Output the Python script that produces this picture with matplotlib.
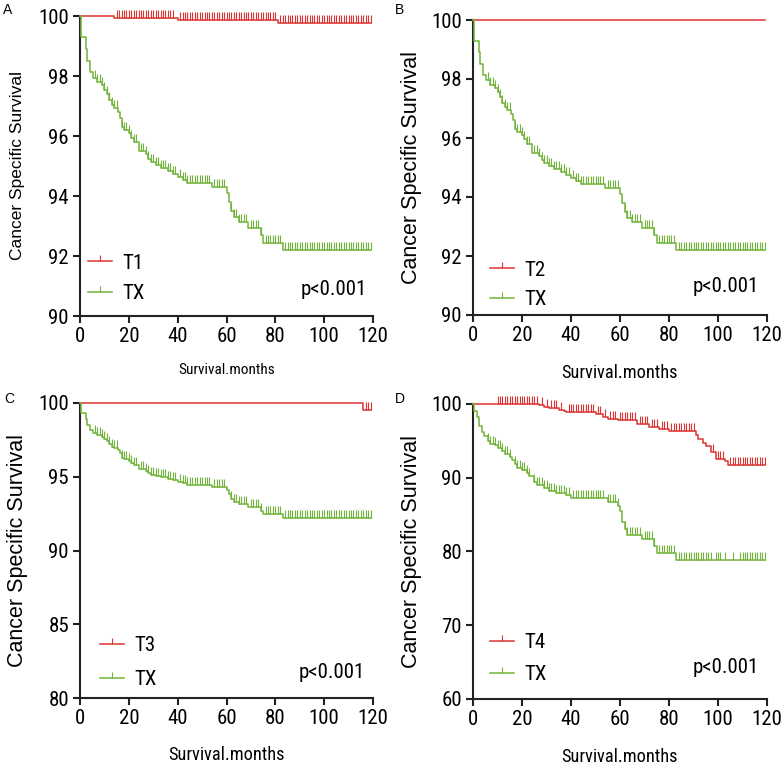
import numpy as np
import matplotlib
matplotlib.use('Agg')
import matplotlib.pyplot as plt
from matplotlib.lines import Line2D
from matplotlib import font_manager as fm

RED = '#DC3432'
GREEN = '#72B43A'

# look for a condensed face for the ticks / labels
narrow_file = None
cands = []
for f in fm.fontManager.ttflist:
    nm = f.name.lower()
    fn = f.fname.lower()
    if f.weight not in (400, 'normal', 'regular') or f.style != 'normal':
        continue
    if 'narrow' in nm or 'condensed' in nm or 'narrow' in fn or 'condensed' in fn \
            or str(f.stretch) in ('condensed', 'semi-condensed', 'extra-condensed'):
        if 'bold' in fn or 'italic' in fn or 'light' in fn or 'thin' in fn or 'medium' in fn:
            continue
        cands.append(f.fname)
cands.sort(key=lambda s: (0 if 'liberation' in s.lower() else 1 if 'roboto' in s.lower() else 2, s))
if cands:
    narrow_file = cands[0]


def nprop(size):
    if narrow_file:
        return fm.FontProperties(fname=narrow_file, size=size)
    return fm.FontProperties(family=['Liberation Sans', 'DejaVu Sans'], size=size * 0.85)


# TX group (panels A, B, C): step times / survival
tx_t = [0, 0.5, 2.3, 3.0, 4.0, 5.5, 7, 9, 10, 11, 12, 13, 14, 15.5, 16.5, 17, 18, 20, 21, 22,
        24, 27, 28, 29, 31, 33, 36, 38, 40, 42, 44, 54, 60, 61, 62, 63, 65, 69, 74, 75, 83]
tx_s = [100, 99.3, 98.9, 98.5, 98.15, 97.95, 97.8, 97.7, 97.55, 97.4, 97.2, 97.05, 96.95, 96.8,
        96.6, 96.3, 96.2, 96.1, 95.95, 95.8, 95.5, 95.4, 95.25, 95.15, 95.05, 94.95, 94.85, 94.75,
        94.65, 94.55, 94.45, 94.3, 94.1, 93.8, 93.5, 93.3, 93.15, 92.95, 92.7, 92.45, 92.2]
tx_c = [6, 7, 8, 9, 10, 11, 12, 13, 14, 15, 17, 18, 19, 20, 21, 22, 23, 25, 26, 27, 28, 29, 30,
        31, 32, 33, 34, 35, 36, 37, 38, 39, 41, 42, 43, 44, 45, 46, 47, 48, 49, 50, 51, 52, 53,
        55, 56, 57, 58, 59, 62, 63, 64, 65, 66, 67, 68, 70, 71, 72, 73, 74, 76, 77, 78, 79, 80,
        81, 82, 84, 85, 86, 87, 88, 89, 90, 91, 92, 93, 94, 95, 96, 97, 98, 99, 100, 101, 102,
        103, 104, 105, 106, 107, 108, 109, 110, 111, 112, 113, 114, 115, 116, 117, 118, 119]

# T1 (panel A)
t1_t = [0, 14, 40, 81]
t1_s = [100, 99.93, 99.86, 99.76]
t1_c = [15, 16, 17, 18, 19, 20, 21, 22, 23, 24, 25, 26, 27, 28, 29, 30, 31, 32, 33, 34, 35, 36,
        37, 38, 41, 42, 43, 44, 45, 46, 47, 48, 49, 50, 51, 52, 53, 54, 55, 56, 57, 58, 59, 60,
        61, 62, 63, 64, 65, 66, 67, 68, 69, 70, 71, 72, 73, 74, 75, 76, 77, 78, 79, 80, 82, 83,
        84, 85, 86, 87, 88, 89, 90, 91, 92, 93, 94, 95, 96, 97, 98, 99, 100, 101, 102, 103, 104,
        105, 106, 107, 108, 109, 110, 111, 112, 113, 114, 115, 116, 117, 118, 119]

# T2 (panel B)
t2_t = [0]
t2_s = [100]
t2_c = []

# T3 (panel C)
t3_t = [0, 116]
t3_s = [100, 99.55]
t3_c = [117, 118, 119]

# TX group (panel D)
txd_t = [0, 0.5, 1.5, 2.5, 3.5, 4.5, 6, 7, 9, 10, 12, 13, 15, 16, 17, 18, 20, 22, 23, 25, 26,
         29, 31, 34, 38, 40, 55, 59, 60, 61, 62, 63, 69, 74, 75, 83]
txd_s = [100, 99, 98.2, 97, 96.2, 95.6, 95, 94.6, 94.4, 94.0, 93.6, 93.2, 92.8, 92.4, 91.8,
         91.3, 91.0, 90.6, 90.2, 89.4, 89.0, 88.6, 88.2, 87.9, 87.6, 87.2, 86.7, 86.2, 85.5,
         84.0, 83.0, 82.3, 81.7, 80.8, 79.8, 78.8]
txd_c = [6, 7, 8, 9, 10, 11, 12, 13, 14, 15, 17, 18, 19, 20, 21, 22, 23, 25, 26, 27, 28, 29,
         30, 31, 32, 33, 34, 35, 36, 37, 38, 39, 41, 42, 43, 44, 45, 46, 47, 48, 49, 50, 51, 52,
         53, 55, 56, 57, 58, 59, 62, 63, 64, 65, 66, 67, 68, 70, 71, 72, 73, 74, 76, 77, 78, 79,
         80, 81, 82, 84, 85, 86, 87, 88, 89, 90, 91, 92, 93, 94, 95, 96, 97, 99, 100, 101, 103,
         106, 109, 110, 111, 112, 113, 114, 115, 116, 117, 118, 119]

# T4 (panel D)
t4_t = [0, 27, 29, 31, 35, 37, 38, 50, 53, 55, 59, 67, 72, 76, 80, 91, 92, 94, 95, 97, 99,
        103, 104]
t4_s = [100, 99.8, 99.6, 99.4, 99.2, 99.0, 98.9, 98.6, 98.3, 98.0, 97.8, 97.3, 96.9, 96.6,
        96.3, 95.8, 95.2, 94.7, 94.3, 93.5, 92.6, 92.3, 91.7]
t4_c = [10, 11, 12, 13, 14, 15, 16, 17, 18, 19, 20, 21, 22, 23, 24, 25, 26, 28, 30, 32, 33,
        34, 36, 39, 40, 41, 42, 43, 44, 45, 46, 47, 48, 49, 51, 52, 54, 56, 57, 58, 60, 61, 62,
        63, 64, 65, 66, 68, 69, 70, 71, 73, 74, 75, 77, 78, 79, 81, 82, 83, 84, 85, 86, 87, 88,
        89, 90, 98, 100, 101, 102, 105, 106, 107, 108, 109, 110, 111, 112, 113, 114, 115, 116,
        117, 118, 119]

END = 119
FS = 15


def km(ax, t, s, c, color):
    tt = list(t) + [END]
    ss = list(s) + [s[-1]]
    ax.step(tt, ss, where='post', color=color, lw=1.1, clip_on=False, zorder=3)
    if len(c):
        idx = np.searchsorted(t, c, side='right') - 1
        ys = np.array(s)[idx]
        ax.plot(c, ys, ls='none', marker=2, markersize=5.5, mew=0.8, color=color,
                clip_on=False, zorder=3)


fig = plt.figure(figsize=(7.84, 7.73), dpi=100)
W, H = 784, 773


def make_ax(l, r, top, bot):
    return fig.add_axes([l / W, 1 - bot / H, (r - l) / W, (bot - top) / H])


panels = [
    dict(box=(80, 373, 16, 316), curves=[(t1_t, t1_s, t1_c), (tx_t, tx_s, tx_c)],
         lab='T1', ylim=(90, 100), yt=[90, 92, 94, 96, 98, 100], letter='A', lx=3, ly=10,
         ysz=12.5, xsz=11, ylx=18, xly=370, legx=8, legy=13, lsp=0.55, px=0.98, py=0.087),
    dict(box=(473, 767, 20, 315), curves=[(t2_t, t2_s, t2_c), (tx_t, tx_s, tx_c)],
         lab='T2', ylim=(90, 100), yt=[90, 92, 94, 96, 98, 100], letter='B', lx=395, ly=10,
         ysz=15.5, xsz=13.2, ylx=412, xly=373, legx=17, legy=6, lsp=0.5, px=0.973, py=0.095),
    dict(box=(80, 373, 403, 698), curves=[(t3_t, t3_s, t3_c), (tx_t, tx_s, tx_c)],
         lab='T3', ylim=(80, 100), yt=[80, 85, 90, 95, 100], letter='C', lx=4, ly=399,
         ysz=15.5, xsz=13.2, ylx=18, xly=755, legx=20, legy=9, lsp=0.7, px=0.973, py=0.088),
    dict(box=(473, 767, 404, 699), curves=[(t4_t, t4_s, t4_c), (txd_t, txd_s, txd_c)],
         lab='T4', ylim=(60, 100), yt=[60, 70, 80, 90, 100], letter='D', lx=395, ly=399,
         ysz=15.5, xsz=13.2, ylx=412, xly=757, legx=17, legy=15, lsp=0.6, px=0.973, py=0.108),
]

for p in panels:
    l, r, top, bot = p['box']
    ax = make_ax(l, r, top, bot)
    (a_t, a_s, a_c), (b_t, b_s, b_c) = p['curves']
    km(ax, a_t, a_s, a_c, RED)
    km(ax, b_t, b_s, b_c, GREEN)
    ax.set_xlim(0, 120)
    ax.set_ylim(*p['ylim'])
    ax.set_xticks([0, 20, 40, 60, 80, 100, 120])
    ax.set_yticks(p['yt'])
    for sp in ['top', 'right']:
        ax.spines[sp].set_visible(False)
    for sp in ['left', 'bottom']:
        ax.spines[sp].set_linewidth(1.5)
        ax.spines[sp].set_color('#222222')
    ax.tick_params(direction='out', length=5, width=1.5, pad=3, color='#222222')
    for lbl in ax.get_xticklabels() + ax.get_yticklabels():
        lbl.set_fontproperties(nprop(FS))
    handles = [Line2D([0], [0], color=RED, lw=1.1, marker=2, markersize=4, mew=0.8),
               Line2D([0], [0], color=GREEN, lw=1.1, marker=2, markersize=4, mew=0.8)]
    ax.legend(handles, [p['lab'], 'TX'], loc='lower left',
              bbox_to_anchor=(p['legx'] / (r - l), p['legy'] / (bot - top)),
              frameon=False, handlelength=1.15, handletextpad=0.5, labelspacing=p['lsp'],
              borderaxespad=0, borderpad=0, numpoints=1, prop=nprop(FS))
    ax.text(p['px'], p['py'], 'p<0.001', transform=ax.transAxes, ha='right', va='center',
            fontproperties=nprop(FS))
    fig.text(p['lx'] / W, 1 - p['ly'] / H, p['letter'], ha='left', va='center', fontsize=10,
             family=['Liberation Sans', 'DejaVu Sans'])
    fig.text(p['ylx'] / W, 1 - ((top + bot) / 2) / H, 'Cancer Specific Survival',
             rotation=90, ha='center', va='center', fontsize=p['ysz'],
             family=['Liberation Sans', 'DejaVu Sans'])
    fig.text(((l + r) / 2) / W, 1 - p['xly'] / H, 'Survival.months', ha='center',
             va='center', fontproperties=nprop(p['xsz']))

fig.savefig('out.png', dpi=100)
